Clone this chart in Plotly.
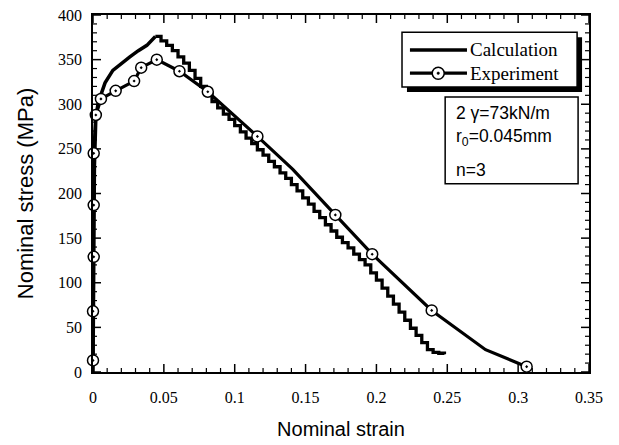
import plotly.graph_objects as go

# ---------------- data ----------------
calc_rise_strain = [0, 0.0005, 0.001, 0.002, 0.0035, 0.005, 0.0085, 0.014,
                    0.020, 0.026, 0.032, 0.038, 0.044]
calc_rise_stress = [0, 120, 230, 285, 300, 308, 324, 338, 346, 353, 360, 366, 376]

calc_fall_strain = [0.044, 0.048, 0.052, 0.056, 0.060, 0.064, 0.068, 0.072, 0.076,
                    0.080, 0.084, 0.088, 0.092, 0.096, 0.100, 0.104, 0.108, 0.112,
                    0.116, 0.120, 0.124, 0.128, 0.132, 0.136, 0.140, 0.144, 0.148,
                    0.152, 0.156, 0.160, 0.164, 0.168, 0.172, 0.176, 0.180, 0.184,
                    0.188, 0.192, 0.196, 0.200, 0.204, 0.208, 0.212, 0.216, 0.220,
                    0.224, 0.228, 0.232, 0.236, 0.240, 0.244, 0.248]
calc_fall_stress = [376, 371, 366, 360, 353, 346, 338, 329, 320,
                    312, 303, 296, 289, 283, 276, 269, 262, 256,
                    249, 243, 236, 230, 223, 217, 210, 203, 195,
                    188, 180, 173, 165, 158, 151, 145, 139, 132,
                    126, 120, 111, 103, 94, 85, 76, 67, 58,
                    49, 41, 33, 25, 22, 21, 20]

exp_strain = [0, 0, 0.0005, 0.0005, 0.0005, 0.002, 0.0056, 0.016, 0.029, 0.034,
              0.045, 0.061, 0.081, 0.116, 0.171, 0.197, 0.239, 0.306]
exp_stress = [13, 68, 129, 187, 245, 288, 306, 315, 326, 341,
              350, 337, 314, 264, 176, 132, 69, 6]

# experiment curve path (marked points plus unmarked bends)
exp_line_strain = [0, 0, 0.0005, 0.0005, 0.0005, 0.002, 0.0056, 0.016, 0.029, 0.034,
                   0.045, 0.061, 0.081, 0.116, 0.141, 0.171, 0.197, 0.239, 0.277, 0.306]
exp_line_stress = [13, 68, 129, 187, 245, 288, 306, 315, 326, 341,
                   350, 337, 314, 264, 227, 176, 132, 69, 25, 6]

x_range = [0, 0.35]
y_range = [0, 400]

x_major_ticks = [0, 0.05, 0.1, 0.15, 0.2, 0.25, 0.3, 0.35]
x_tick_text = ["0", "0.05", "0.1", "0.15", "0.2", "0.25", "0.3", "0.35"]
x_minor_ticks = [0.01, 0.02, 0.03, 0.04, 0.06, 0.07, 0.08, 0.09, 0.11, 0.12, 0.13, 0.14,
                 0.16, 0.17, 0.18, 0.19, 0.21, 0.22, 0.23, 0.24, 0.26, 0.27, 0.28, 0.29,
                 0.31, 0.32, 0.33, 0.34]
y_major_ticks = [0, 50, 100, 150, 200, 250, 300, 350, 400]
y_minor_ticks = [10, 20, 30, 40, 60, 70, 80, 90, 110, 120, 130, 140, 160, 170, 180, 190,
                 210, 220, 230, 240, 260, 270, 280, 290, 310, 320, 330, 340,
                 360, 370, 380, 390]

legend_names = ["Calculation", "Experiment"]
param_lines = ["2 γ=73kN/m", "r<sub>0</sub>=0.045mm", "n=3"]

SERIF = "Liberation Serif, Times New Roman, serif"
SANS = "Liberation Sans, Arial, sans-serif"

# ---------------- figure ----------------
fig = go.Figure()

fig.add_trace(go.Scatter(x=calc_rise_strain, y=calc_rise_stress, mode="lines",
                         line=dict(color="black", width=3.5), name=legend_names[0],
                         showlegend=False, cliponaxis=False))
fig.add_trace(go.Scatter(x=calc_fall_strain, y=calc_fall_stress, mode="lines",
                         line=dict(color="black", width=3.3, shape="hv"),
                         showlegend=False))
fig.add_trace(go.Scatter(x=exp_line_strain, y=exp_line_stress, mode="lines",
                         line=dict(color="black", width=3.2), name=legend_names[1],
                         showlegend=False, cliponaxis=False))
fig.add_trace(go.Scatter(x=exp_strain, y=exp_stress, mode="markers",
                         marker=dict(symbol="circle-dot", size=11, color="white",
                                     line=dict(color="black", width=1.5)),
                         showlegend=False, cliponaxis=False))

# ---- inward tick marks on all four sides, positioned by the axes' own scales ----
def x_tick(xv, edge, length, width):
    sign = 1 if edge == y_range[0] else -1
    fig.add_shape(type="line", xref="x", yref="y", x0=xv, x1=xv,
                  ysizemode="pixel", yanchor=edge, y0=0, y1=sign * length,
                  line=dict(color="black", width=width), layer="below")

def y_tick(yv, edge, length, width):
    sign = 1 if edge == x_range[0] else -1
    fig.add_shape(type="line", xref="x", yref="y", y0=yv, y1=yv,
                  xsizemode="pixel", xanchor=edge, x0=0, x1=sign * length,
                  line=dict(color="black", width=width), layer="below")

for edge in y_range:
    for xv in x_major_ticks:
        x_tick(xv, edge, 8, 1.5)
    for xv in x_minor_ticks:
        x_tick(xv, edge, 4, 1.2)
for edge in x_range:
    for yv in y_major_ticks:
        y_tick(yv, edge, 8, 1.5)
    for yv in y_minor_ticks:
        y_tick(yv, edge, 4, 1.2)

fig.update_xaxes(range=x_range, tickvals=x_major_ticks, ticktext=x_tick_text,
                 showline=True, linecolor="black", linewidth=1.6, mirror=True,
                 ticks="", showgrid=False, zeroline=False, automargin=False,
                 tickfont=dict(family=SERIF, size=16, color="black"),
                 ticklabelstandoff=10,
                 title=dict(text="Nominal strain", standoff=17,
                            font=dict(family=SANS, size=20, color="black")))
fig.update_yaxes(range=y_range, tickvals=y_major_ticks,
                 showline=True, linecolor="black", linewidth=1.6, mirror=True,
                 ticks="", showgrid=False, zeroline=False, automargin=False,
                 tickfont=dict(family=SERIF, size=16, color="black"),
                 ticklabelstandoff=6,
                 title=dict(text="Nominal stress (MPa)", standoff=18,
                            font=dict(family=SANS, size=22, color="black")))

# ---- legend box drawn by hand (shadow, frame, samples, labels) ----
fig.add_shape(type="rect", xref="paper", yref="paper",
              x0=0.633, x1=0.986, y0=0.784, y1=0.938,
              fillcolor="black", line=dict(width=0), layer="above")
fig.add_shape(type="rect", xref="paper", yref="paper",
              x0=0.623, x1=0.976, y0=0.798, y1=0.952,
              fillcolor="white", line=dict(color="black", width=1.5), layer="above")
leg_y = [0.902, 0.837]
fig.add_shape(type="line", xref="paper", yref="paper",
              x0=0.639, x1=0.754, y0=leg_y[0], y1=leg_y[0],
              line=dict(color="black", width=3.5), layer="above")
fig.add_shape(type="line", xref="paper", yref="paper",
              x0=0.639, x1=0.754, y0=leg_y[1], y1=leg_y[1],
              line=dict(color="black", width=3.2), layer="above")
fig.add_shape(type="circle", xref="paper", yref="paper",
              x0=0.696 - 0.0121, x1=0.696 + 0.0121,
              y0=leg_y[1] - 0.0168, y1=leg_y[1] + 0.0168,
              fillcolor="white", line=dict(color="black", width=1.5), layer="above")
fig.add_shape(type="circle", xref="paper", yref="paper",
              x0=0.696 - 0.0025, x1=0.696 + 0.0025,
              y0=leg_y[1] - 0.0035, y1=leg_y[1] + 0.0035,
              fillcolor="black", line=dict(color="black", width=0.5), layer="above")
for name, yy in zip(legend_names, leg_y):
    fig.add_annotation(text=name, xref="paper", yref="paper", x=0.756, y=yy,
                       xanchor="left", yanchor="middle", showarrow=False,
                       font=dict(family=SERIF, size=19, color="black"))

# ---- parameter box ----
fig.add_shape(type="rect", xref="paper", yref="paper",
              x0=0.710, x1=0.978, y0=0.527, y1=0.770,
              fillcolor="white", line=dict(color="black", width=1.5), layer="above")
for txt, yy in zip(param_lines, [0.726, 0.658, 0.566]):
    fig.add_annotation(text=txt, xref="paper", yref="paper", x=0.728, y=yy,
                       xanchor="left", yanchor="middle", showarrow=False,
                       font=dict(family=SANS, size=17.5, color="black"))

fig.update_layout(
    width=619, height=445,
    margin=dict(l=93, r=30, t=15, b=73),
    paper_bgcolor="white", plot_bgcolor="white",
    showlegend=False,
)

fig.write_html("out.html")
